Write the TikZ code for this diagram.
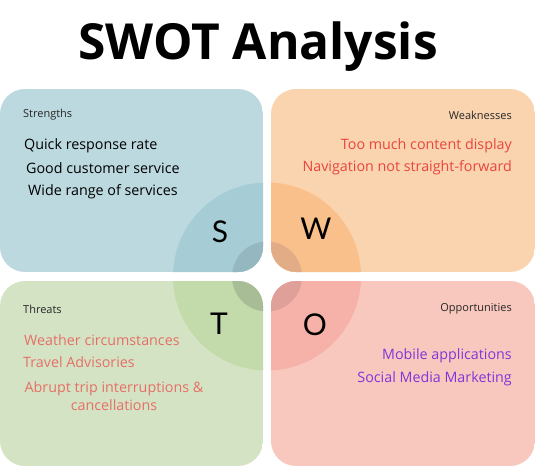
\documentclass[tikz,border=0pt]{standalone}
\usepackage{fontspec}
\setmainfont{Open Sans}
\newfontfamily\letterfont{Lato}
\definecolor{sbox}{HTML}{BCD9DF}
\definecolor{sbig}{HTML}{A6CDD6}
\definecolor{ssmall}{HTML}{95B8C0}
\definecolor{wbox}{HTML}{FAD3AF}
\definecolor{wbig}{HTML}{F9C08B}
\definecolor{wsmall}{HTML}{E2AD86}
\definecolor{tbox}{HTML}{D5E3C5}
\definecolor{tbig}{HTML}{C3DAAA}
\definecolor{tsmall}{HTML}{A8BD95}
\definecolor{obox}{HTML}{F8C8BE}
\definecolor{obig}{HTML}{F6B2A8}
\definecolor{osmall}{HTML}{DEA099}
\definecolor{wtext}{HTML}{E8463E}
\definecolor{ttext}{HTML}{E56F66}
\definecolor{otext}{HTML}{8434D9}
\begin{document}
\begin{tikzpicture}[x=1pt,y=-1pt,
  heading/.style={font=\fontsize{11}{13}\selectfont, text=black!85, inner sep=0pt},
  item/.style={font=\fontsize{14.3}{17}\selectfont, inner sep=0pt},
  letter/.style={font=\letterfont\fontsize{30}{32}\selectfont, text=black, inner sep=0pt},
  quad/.style={rounded corners=25pt},
]
\useasboundingbox (0,0) rectangle (535,466);
\coordinate (c) at (267,276.5);

% title
\node[font=\bfseries\fontsize{49.7}{58}\selectfont, inner sep=0pt] (title) at (258,47) {SWOT Analysis};

% four quadrants, each with its slice of the two central discs
\begin{scope}
  \clip[quad] (0,89) rectangle (263,272);
  \fill[sbox] (0,89) rectangle (263,272);
  \fill[sbig] (c) circle (94pt);
  \fill[ssmall] (c) circle (35pt);
\end{scope}
\begin{scope}
  \clip[quad] (271,89) rectangle (535,272);
  \fill[wbox] (271,89) rectangle (535,272);
  \fill[wbig] (c) circle (94pt);
  \fill[wsmall] (c) circle (35pt);
\end{scope}
\begin{scope}
  \clip[quad] (0,281) rectangle (263,466);
  \fill[tbox] (0,281) rectangle (263,466);
  \fill[tbig] (c) circle (94pt);
  \fill[tsmall] (c) circle (35pt);
\end{scope}
\begin{scope}
  \clip[quad] (271,281) rectangle (535,466);
  \fill[obox] (271,281) rectangle (535,466);
  \fill[obig] (c) circle (94pt);
  \fill[osmall] (c) circle (35pt);
\end{scope}

% letters
\node[letter] (ls) at (220,232) {S};
\node[letter] (lw) at (316,229) {W};
\node[letter] (lt) at (219,324) {T};
\node[letter] (lo) at (315,325) {O};

% strengths
\node[heading, anchor=west] (hs) at (23,115) {Strengths};
\node[item, anchor=west] (s1) at (24,146) {Quick response rate};
\node[item, anchor=west] (s2) at (26,168) {Good customer service};
\node[item, anchor=west] (s3) at (28,192) {Wide range of services};

% weaknesses
\node[heading, anchor=east] (hw) at (512,115) {Weaknesses};
\node[item, anchor=east, text=wtext] (w1) at (512,146) {Too much content display};
\node[item, anchor=east, text=wtext] (w2) at (512,168) {Navigation not straight-forward};

% threats
\node[heading, anchor=west] (ht) at (23,309) {Threats};
\node[item, anchor=west, text=ttext] (t1) at (24,340) {Weather circumstances};
\node[item, anchor=west, text=ttext] (t2) at (23,362) {Travel Advisories};
\node[item, text=ttext, align=center] (t3) at (114,396) {Abrupt trip interruptions \&\\[1pt] cancellations};

% opportunities
\node[heading, anchor=east] (ho) at (512,309) {Opportunities};
\node[item, anchor=east, text=otext] (o1) at (512,356) {Mobile applications};
\node[item, anchor=east, text=otext] (o2) at (512,379) {Social Media Marketing};
\end{tikzpicture}
\end{document}
